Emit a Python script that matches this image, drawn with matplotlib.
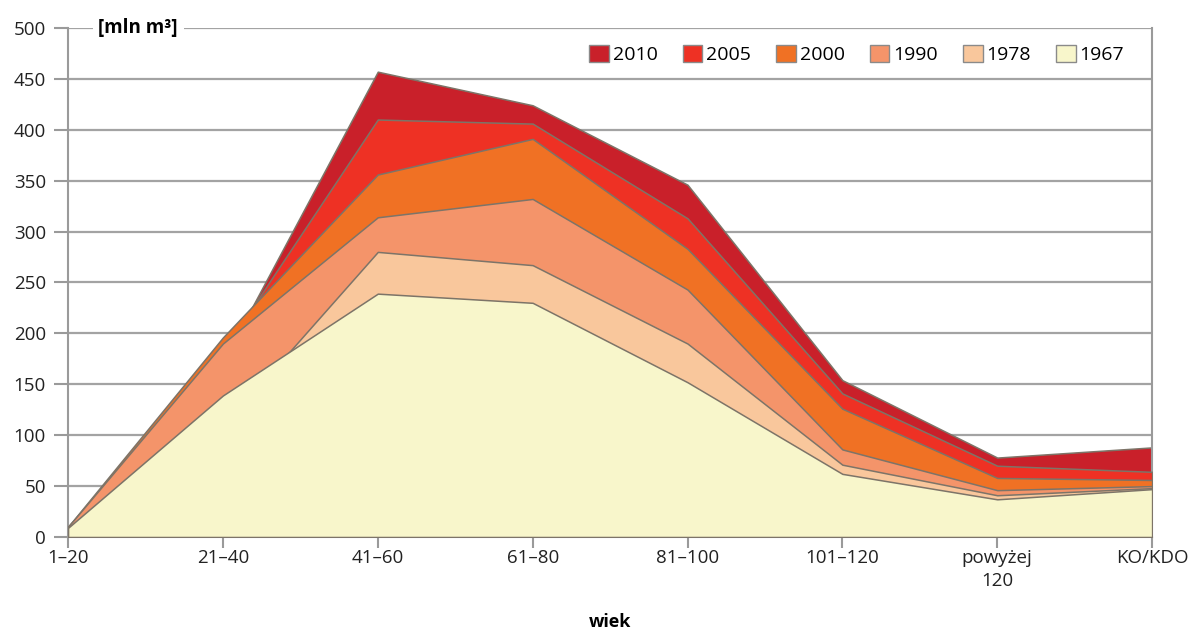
import numpy as np
import matplotlib
matplotlib.use("Agg")
import matplotlib.pyplot as plt
from matplotlib.patches import Patch

plt.rcParams["font.family"] = ["Open Sans", "DejaVu Sans"]

# age classes and standing volume [mln m3] per survey year
categories = ["1–20", "21–40", "41–60", "61–80", "81–100", "101–120", "powyżej\n120", "KO/KDO"]
years = ["2010", "2005", "2000", "1990", "1978", "1967"]
v2010 = [10, 172, 457, 424, 346, 154, 78, 88]
v2005 = [10, 182, 410, 406, 313, 141, 70, 64]
v2000 = [10, 196, 356, 391, 283, 126, 58, 56]
v1990 = [10, 190, 314, 332, 243, 86, 46, 50]
v1978 = [9, 108, 280, 267, 190, 71, 41, 48]
v1967 = [9, 139, 239, 230, 152, 62, 37, 47]
series = [v2010, v2005, v2000, v1990, v1978, v1967]
colors = ["#c9202a", "#ee3124", "#f07124", "#f4946a", "#f9c79c", "#f8f6cb"]

fig = plt.figure(figsize=(11.96, 6.34), dpi=100)
ax = fig.add_axes([0.0569, 0.153, 0.9064, 0.803])

x = np.arange(len(categories))
# back to front: newest year at the back
for i, (vals, c) in enumerate(zip(series, colors)):
    ax.fill_between(x, 0, vals, facecolor=c, edgecolor="#7d7468", linewidth=1.1, zorder=2 + i)

ax.set_xlim(0, len(categories) - 1)
ax.set_ylim(0, 500)
ax.set_yticks(np.arange(0, 501, 50))
ax.set_xticks(x)
ax.set_xticklabels(categories, fontsize=13.5, color="#222222", linespacing=1.35)
ax.tick_params(axis="y", labelsize=13.5, colors="#222222", length=10, width=1.5, color="#9a9a9a", pad=6)
ax.tick_params(axis="x", length=8, width=1.5, color="#9a9a9a", pad=1)
for lbl in ax.get_yticklabels():
    lbl.set_color("#222222")

ax.grid(axis="y", color="#a3a3a3", linewidth=1.6, zorder=0)
ax.set_axisbelow(True)
ax.spines["top"].set_visible(False)
for s in ["left", "bottom", "right"]:
    ax.spines[s].set_color("#9a9a9a")
    ax.spines[s].set_linewidth(1.5)

ax.set_xlabel("wiek", fontsize=13, fontweight="bold", labelpad=16)

ax.text(0.028, 1.0, "[mln m³]", transform=ax.transAxes, fontsize=13.5, fontweight="bold",
        va="center", ha="left", zorder=20,
        bbox=dict(facecolor="white", edgecolor="none", pad=4))

handles = [Patch(facecolor=c, edgecolor="#8a8a8a", linewidth=1.0) for c in colors]
leg = ax.legend(handles, years, loc="upper right", bbox_to_anchor=(0.985, 0.99), ncol=6,
                frameon=True, fontsize=14, handlelength=1.0, handleheight=1.0,
                handletextpad=0.2, columnspacing=1.3, borderaxespad=0.2)
leg.get_frame().set_facecolor("white")
leg.get_frame().set_edgecolor("none")
leg.set_zorder(20)

fig.savefig("out.png", dpi=100)
